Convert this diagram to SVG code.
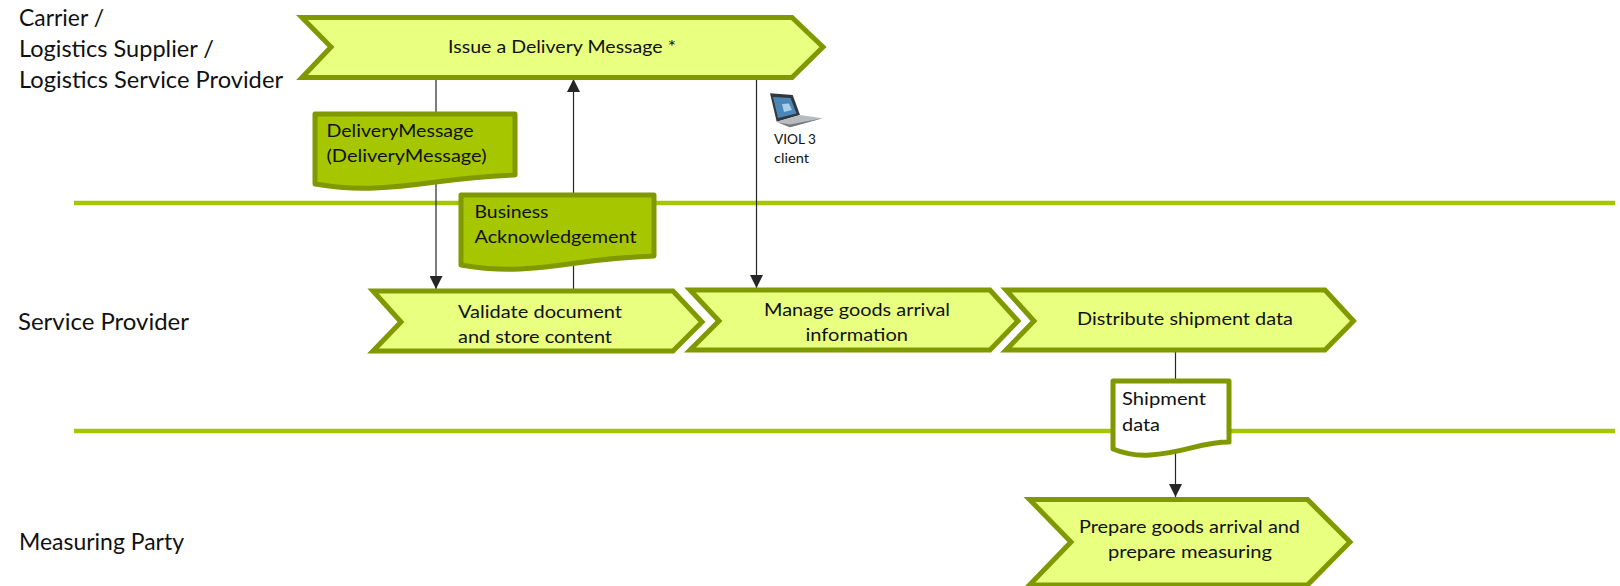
<svg xmlns="http://www.w3.org/2000/svg" width="1620" height="586" viewBox="0 0 1620 586">
<style>
text{font-family:Lato,"Open Sans","Liberation Sans",sans-serif;fill:#111;font-size:18px}
.lane{font-size:22.500px}
.small{font-size:14px}
.chev{fill:#E8FF80;stroke:#809900;stroke-width:5;stroke-linejoin:miter;stroke-miterlimit:10}
.doc{fill:#A6C700;stroke:#809900;stroke-width:5;stroke-linejoin:round}
.docw{fill:#fff;stroke:#809900;stroke-width:5;stroke-linejoin:round}
.sep{stroke:#A6C700;stroke-width:4.500;fill:none}
.con{stroke:#262626;stroke-width:1.200;fill:none}
</style>
<defs>
<marker id="ah" markerUnits="userSpaceOnUse" viewBox="0 0 13 13" refX="13" refY="6.500" markerWidth="13" markerHeight="13" orient="auto"><path d="M0 0L13 6.500L0 13Z" fill="#262626"/></marker>
</defs>
<g id="separators">
<path class="sep" d="M74 203H1615"/>
<path class="sep" d="M74 431H1615"/>
</g>
<g id="connectors">
<path class="con" d="M436 79V289" marker-end="url(#ah)"/>
<path class="con" d="M573.500 289V79" marker-end="url(#ah)"/>
<path class="con" d="M756.500 79V288" marker-end="url(#ah)"/>
<path class="con" d="M1175.500 352V497" marker-end="url(#ah)"/>
</g>
<g id="lane-carrier">
<text class="lane" x="19" y="26" textLength="85" lengthAdjust="spacingAndGlyphs">Carrier /</text>
<text class="lane" x="19" y="57" textLength="195" lengthAdjust="spacingAndGlyphs">Logistics Supplier /</text>
<text class="lane" x="19" y="88" textLength="264" lengthAdjust="spacingAndGlyphs">Logistics Service Provider</text>
</g>
<g id="lane-service"><text class="lane" x="18" y="330" textLength="171" lengthAdjust="spacingAndGlyphs">Service Provider</text></g>
<g id="lane-measuring"><text class="lane" x="19" y="550" textLength="165" lengthAdjust="spacingAndGlyphs">Measuring Party</text></g>
<g id="issue">
<path class="chev" d="M302 17.500H792L823 47L792 77.500H302L331 47Z"/>
<text x="448" y="53" textLength="228" lengthAdjust="spacingAndGlyphs">Issue a Delivery Message *</text>
</g>
<g id="delivery-message">
<path class="doc" d="M315 114H515V175C450 177 425 186 375 188C350 189 335 187 315 184Z"/>
<text x="326.500" y="137" textLength="147" lengthAdjust="spacingAndGlyphs">DeliveryMessage</text>
<text x="326.500" y="162" textLength="160" lengthAdjust="spacingAndGlyphs">(DeliveryMessage)</text>
</g>
<g id="business-ack">
<path class="doc" d="M461 195H654V256C590 258 565 267 520 269C495 270 480 268 461 265Z"/>
<text x="474.500" y="218" textLength="74" lengthAdjust="spacingAndGlyphs">Business</text>
<text x="474.500" y="243" textLength="162" lengthAdjust="spacingAndGlyphs">Acknowledgement</text>
</g>
<g id="validate">
<path class="chev" d="M373 291H673L702 322L673 351H373L401 322Z"/>
<text x="458" y="318" textLength="164" lengthAdjust="spacingAndGlyphs">Validate document</text>
<text x="458" y="343" textLength="154" lengthAdjust="spacingAndGlyphs">and store content</text>
</g>
<g id="manage">
<path class="chev" d="M690 290H990L1018 321L990 350H690L719 321Z"/>
<text x="764" y="316" textLength="186" lengthAdjust="spacingAndGlyphs">Manage goods arrival</text>
<text x="805.500" y="341" textLength="102.500" lengthAdjust="spacingAndGlyphs">information</text>
</g>
<g id="distribute">
<path class="chev" d="M1006 290H1325L1353.500 321L1325 350H1006L1034 321Z"/>
<text x="1077" y="325" textLength="216" lengthAdjust="spacingAndGlyphs">Distribute shipment data</text>
</g>
<g id="shipment-data">
<path class="docw" d="M1113 381H1229V442C1200 442 1185 453 1150 455C1135 456 1123 453 1113 449Z"/>
<text x="1122" y="405" textLength="84" lengthAdjust="spacingAndGlyphs">Shipment</text>
<text x="1122" y="431" textLength="38" lengthAdjust="spacingAndGlyphs">data</text>
</g>
<g id="prepare">
<path class="chev" d="M1029.500 499.500H1307.500L1350 542L1307.500 585H1029.500L1071 542Z"/>
<text x="1079" y="533" textLength="221" lengthAdjust="spacingAndGlyphs">Prepare goods arrival and</text>
<text x="1108" y="558" textLength="164" lengthAdjust="spacingAndGlyphs">prepare measuring</text>
</g>
<g id="viol-client">
<path d="M770 93.300L792.700 95L800 115L776.700 121.700Z" fill="#33383e"/>
<path d="M773 97L790.500 98L796.500 113.500L778 118Z" fill="#4a86b8"/>
<path d="M782 104L789 103.500L792 110L784 112Z" fill="#a9cfe8"/>
<path d="M776.700 121.700L800 115L822.700 118.300L790 127.300Z" fill="#b9bcbf"/>
<path d="M778 122.500L790 127.300L822.700 118.300L790 124.500Z" fill="#75787b"/>
<text class="small" x="774" y="144" textLength="42" lengthAdjust="spacingAndGlyphs">VIOL 3</text>
<text class="small" x="774" y="163" textLength="35" lengthAdjust="spacingAndGlyphs">client</text>
</g>
</svg>
